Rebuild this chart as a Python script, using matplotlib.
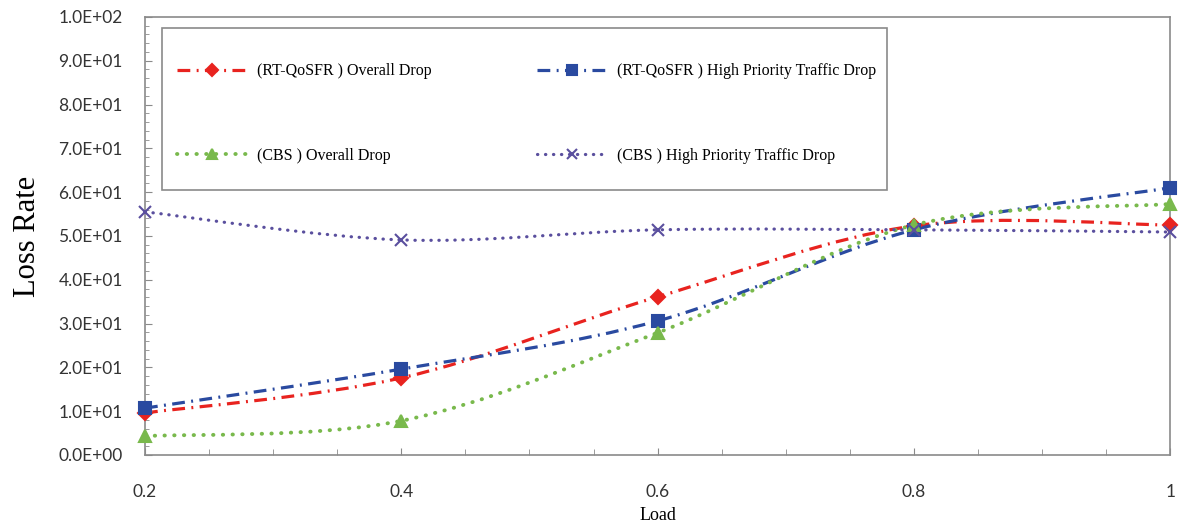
import numpy as np
import matplotlib
matplotlib.use('Agg')
import matplotlib.pyplot as plt
from matplotlib.path import Path
from matplotlib.patches import PathPatch, Rectangle
from matplotlib.lines import Line2D
from matplotlib.ticker import FuncFormatter, MultipleLocator

# Data
load = [0.2, 0.4, 0.6, 0.8, 1.0]
rt_overall = [9.6, 17.6, 36.1, 52.3, 52.5]
rt_high = [10.7, 19.6, 30.6, 51.4, 61.0]
cbs_overall = [4.3, 7.8, 27.9, 52.5, 57.3]
cbs_high = [55.5, 49.1, 51.4, 51.4, 50.9]

labels = ['(RT-QoSFR ) Overall Drop',
          '(RT-QoSFR ) High Priority Traffic Drop',
          '(CBS ) Overall Drop',
          '(CBS ) High Priority Traffic Drop']


def smooth_path(x, y):
    # Excel-like smoothed line: cubic Bezier segments through the points
    pts = np.column_stack([x, y])
    n = len(pts)
    verts = [pts[0]]
    codes = [Path.MOVETO]
    for i in range(n - 1):
        p0 = pts[max(i - 1, 0)]
        p1 = pts[i]
        p2 = pts[i + 1]
        p3 = pts[min(i + 2, n - 1)]
        c1 = p1 + (p2 - p0) / 6.0
        c2 = p2 - (p3 - p1) / 6.0
        verts += [c1, c2, p2]
        codes += [Path.CURVE4] * 3
    return Path(verts, codes)


fig = plt.figure(figsize=(11.81, 5.24), dpi=100)
ax = fig.add_axes([0.1228, 0.1317, 0.868, 0.836])

dashdot = (0, (4, 2, 0.6, 2))
series = [
    (rt_overall, '#e8231f', dashdot, 2.3, 'D', 7, 'butt', labels[0]),
    (rt_high, '#2a4aa0', dashdot, 2.3, 's', 8.5, 'butt', labels[1]),
    (cbs_overall, '#79b94c', (0, (0.1, 2.4)), 2.8, '^', 9, 'round', labels[2]),
    (cbs_high, '#5a4f9e', (0, (0.1, 2.4)), 2.3, 'x', 8, 'round', labels[3]),
]

handles = {}
for y, color, ls, lw, mk, ms, cap, lab in series:
    patch = PathPatch(smooth_path(load, y), fill=False, edgecolor=color,
                      linewidth=lw, linestyle=ls, capstyle=cap)
    ax.add_patch(patch)
    ax.plot(load, y, linestyle='none', marker=mk, markersize=ms, color=color,
            markeredgewidth=1.5, clip_on=False, zorder=5)
    handles[lab] = Line2D([], [], color=color, linestyle=ls, linewidth=lw,
                          marker=mk, markersize=ms * 0.85, markeredgewidth=1.5,
                          dash_capstyle=cap)

ax.set_xlim(0.2, 1.0)
ax.set_ylim(0, 100)
ax.xaxis.set_major_locator(MultipleLocator(0.2))
ax.xaxis.set_minor_locator(MultipleLocator(0.05))
ax.yaxis.set_major_locator(MultipleLocator(10))
ax.yaxis.set_minor_locator(MultipleLocator(2))


def sci(v, pos):
    if v == 0:
        return '0.0E+00'
    e = int(np.floor(np.log10(abs(v)) + 1e-9))
    return '%.1fE+%02d' % (v / 10 ** e, e)


ax.yaxis.set_major_formatter(FuncFormatter(sci))
ax.xaxis.set_major_formatter(FuncFormatter(lambda v, p: '%g' % round(v, 2)))

for s in ax.spines.values():
    s.set_color('#8a8a8a')
    s.set_linewidth(1.2)
ax.tick_params(which='both', direction='in', colors='#8a8a8a', labelcolor='#333333',
               labelsize=12.5)
ax.tick_params(axis='x', which='major', length=5, pad=21)
ax.tick_params(axis='x', which='minor', length=4)
ax.tick_params(axis='y', which='major', length=5, pad=16)
ax.tick_params(axis='y', which='minor', length=3)
ax.tick_params(top=False, right=False, which='both')
for t in ax.get_xticklabels() + ax.get_yticklabels():
    t.set_family('Lato')

ax.set_ylabel('Loss Rate', fontsize=22, family='Liberation Serif', labelpad=12)
ax.set_xlabel('Load', fontsize=13, family='Liberation Serif', labelpad=5)

# legend frame drawn separately (wide vertical padding, narrow side padding)
ax.add_patch(Rectangle((0.0166, 0.605), 0.7073, 0.370, transform=ax.transAxes,
                       fill=True, facecolor='white', edgecolor='#8a8a8a',
                       linewidth=1.2, zorder=6))

order = [labels[0], labels[2], labels[1], labels[3]]
leg = ax.legend([handles[l] for l in order], order, ncol=2, loc='center left',
                bbox_to_anchor=(0.0235, 0.779, 0.697, 0.0), mode='expand',
                prop={'family': 'Liberation Serif', 'size': 11.5},
                handlelength=4.4, labelspacing=4.3, borderpad=0,
                frameon=False, columnspacing=2, handletextpad=0.6)
leg.set_zorder(7)

fig.savefig('out.png', dpi=100)
